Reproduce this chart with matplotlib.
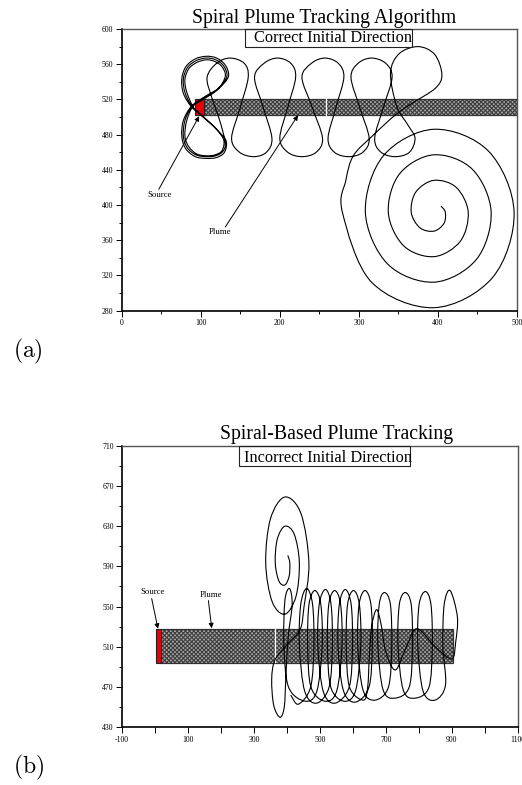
import numpy as np
import matplotlib
matplotlib.use("Agg")
import matplotlib.pyplot as plt
from matplotlib.path import Path
from matplotlib.patches import PathPatch, Rectangle

plt.rcParams["font.family"] = ["Liberation Serif", "DejaVu Serif"]
plt.rcParams["mathtext.fontset"] = "cm"
plt.rcParams["hatch.linewidth"] = 0.8

# ---------------- panel (a): correct initial direction ----------------
a_xlim = (0, 500)
a_ylim = (280, 600)
a_xticks = [0, 100, 200, 300, 400, 500]
a_yticks = [280, 320, 360, 400, 440, 480, 520, 560, 600]
a_source = (93, 502, 11, 19)          # x, y, width, height
a_plume = (104, 502, 396, 19)
a_plume_split = 259

# search spiral, from its centre outwards, then the run up to the plume
a_spiral = [(403.8, 398.9), (409.3, 392.0), (407.7, 379.3), (395.0, 370.4), (377.2, 374.2),
            (366.2, 392.0), (372.1, 414.9), (395.0, 428.1), (423.1, 420.1), (438.3, 392.0),
            (428.2, 358.8), (395.0, 341.4), (356.7, 353.7), (337.2, 392.0), (351.5, 435.5),
            (395.0, 457.1), (443.6, 440.6), (467.3, 392.0), (448.7, 338.3), (395.0, 312.4),
            (336.2, 333.2), (308.2, 392.0), (331.0, 456.0), (395.0, 486.1), (464.1, 461.1),
            (496.3, 392.0), (469.2, 317.8), (395.0, 283.4), (315.7, 312.7), (279.1, 392.0),
            (283.5, 428.0), (293.0, 456.0), (316.5, 478.0), (346.0, 502.3), (367.1, 515.5),
            (396.6, 532.6)]
# plume tracking lobes, moving upwind
a_track = [(405, 548), (396, 571), (375, 580), (351, 572), (340, 550),
           (348, 512), (362, 491), (371, 476), (364, 460), (346, 455), (328, 460), (320, 476),
           (331, 511), (342, 545), (334, 561), (316, 567), (299, 561), (290, 545),
           (301, 511), (313, 476), (305, 460), (287, 455), (269, 460), (261, 476),
           (271, 511), (281, 545), (274, 561), (257, 567), (240, 561), (228, 545),
           (241, 511), (254, 476), (246, 460), (228, 455), (210, 460), (200, 476),
           (210, 511), (220, 545), (214, 561), (197, 567), (180, 561), (168, 545),
           (179, 511), (190, 476), (183, 460), (167, 455), (149, 460), (139, 476),
           (150, 511), (160, 545), (155, 561), (137, 567), (120, 561), (108, 545),
           (114, 522), (124, 496)]
# figure-of-eight circling at the source (three passes)
a_source_loops = [(131, 471), (128, 461), (119, 456), (107, 455), (94, 457), (83, 465),
                  (78, 478), (80, 496), (89, 512), (103, 521), (122, 532), (133, 546),
                  (129, 558), (119, 565), (107, 567), (94, 564), (83, 556), (78, 543),
                  (80, 528), (89, 512), (104, 500), (120, 486),
                  (132, 473), (130, 460), (120, 454), (107, 453), (93, 455), (81, 464),
                  (76, 478), (78, 496), (88, 512), (103, 522), (123, 533), (135, 546),
                  (131, 559), (120, 567), (107, 569), (93, 566), (81, 557), (76, 543),
                  (78, 527), (88, 512), (104, 499), (119, 487),
                  (129, 474), (127, 462), (118, 457), (107, 456), (95, 458), (85, 466),
                  (80, 478), (82, 495), (90, 512), (103, 520), (121, 531), (131, 546),
                  (127, 557), (118, 563), (107, 565), (95, 562), (85, 555), (80, 543),
                  (82, 529), (90, 512), (97, 506)]
a_source_label = (48, 411)
a_source_arrow = ((47, 418), (98, 501))
a_plume_label = (124, 369)
a_plume_arrow = ((131, 375), (223, 502))

# ---------------- panel (b): incorrect initial direction ----------------
b_xlim = (-100, 1100)
b_ylim = (430, 710)
b_xticks = [-100, 0, 100, 200, 300, 400, 500, 600, 700, 800, 900, 1000, 1100]
b_xlabels = ["-100", "", "100", "", "300", "", "500", "", "700", "", "900", "", "1100"]
b_yticks = [430, 470, 510, 550, 590, 630, 670, 710]
b_source = (4, 494, 14, 34)
b_plume = (18, 494, 887, 34)
b_plume_split = 363

# search spiral from its centre outwards
b_spiral = [(402.8, 600.9), (408.8, 593.5), (407.0, 580.5), (394.0, 571.5), (375.9, 575.4),
            (364.8, 593.5), (370.7, 616.8), (394.0, 630.0), (422.4, 621.9), (437.8, 593.5),
            (427.5, 560.0), (394.0, 542.5), (355.4, 554.9), (335.8, 593.5), (350.2, 637.3),
            (394.0, 659.0), (442.9, 642.4), (466.8, 593.5), (452.0, 550.0)]
# drift back across the plume, then casting loops downwind and back upwind
b_track = [(440, 527), (400, 512), (364, 497), (354, 478), (360, 452), (379, 440),
           (392, 450), (397, 480), (404, 520), (416, 552), (408, 568), (394, 556),
           (391, 511), (405, 470), (455, 456), (491, 466), (507, 511), (503, 552),
           (485, 566), (467, 552), (463, 511), (473, 470), (515, 456), (551, 466),
           (567, 511), (563, 552), (545, 566), (527, 552), (523, 511), (533, 470),
           (572, 456), (608, 466), (624, 511), (620, 552), (602, 566), (584, 552),
           (580, 511), (590, 470), (632, 457), (645, 470), (650, 500), (657, 530),
           (672, 547), (686, 532), (700, 505), (729, 487), (760, 508), (794, 528),
           (850, 510), (900, 498), (912, 515), (917, 540), (895, 566), (877, 552),
           (873, 511), (881, 472), (849, 457), (813, 466), (797, 511), (801, 552),
           (820, 565), (837, 552), (841, 511), (831, 470), (789, 459), (753, 467),
           (737, 511), (741, 552), (759, 564), (777, 552), (781, 511), (771, 470),
           (728, 459), (692, 467), (676, 511), (680, 552), (696, 564), (714, 552),
           (718, 511), (708, 470), (667, 457), (631, 467), (615, 511), (619, 552),
           (637, 566), (655, 552), (659, 511), (649, 470), (607, 455), (571, 467),
           (555, 511), (559, 552), (577, 567), (595, 552), (599, 511), (589, 470),
           (546, 454), (510, 466), (494, 511), (498, 552), (517, 567), (534, 552),
           (538, 511), (528, 470), (490, 454), (454, 466), (438, 511), (442, 552),
           (460, 568), (478, 552), (482, 511), (472, 470), (435, 453), (412, 462)]
b_source_label = (-7, 565)
b_source_arrow = ((-10, 558), (9, 528))
b_plume_label = (170, 562)
b_plume_arrow = ((162, 556), (172, 528.5))


def smooth_path(points):
    """Cubic Bezier path passing through the given waypoints (Catmull-Rom)."""
    p = np.asarray(points, dtype=float)
    verts = [p[0]]
    codes = [Path.MOVETO]
    n = len(p)
    for i in range(n - 1):
        p0 = p[i - 1] if i > 0 else p[i]
        p1, p2 = p[i], p[i + 1]
        p3 = p[i + 2] if i + 2 < n else p[i + 1]
        verts += [p1 + (p2 - p0) / 6.0, p2 - (p3 - p1) / 6.0, p2]
        codes += [Path.CURVE4] * 3
    return Path(verts, codes)


def draw_plume(ax, plume, split, source):
    x, y, w, h = plume
    ax.add_patch(Rectangle((x, y), w, h, facecolor="#a9a9a9", edgecolor="#3c3c3c",
                           hatch="xxxxxxxx", lw=0, zorder=2))
    ax.add_patch(Rectangle((x, y), w, h, fill=False, edgecolor="#333333", lw=0.9, zorder=3))
    ax.plot([split, split], [y + 0.6, y + h - 0.6], color="white", lw=0.9, zorder=3)
    sx, sy, sw, sh = source
    ax.add_patch(Rectangle((sx, sy), sw, sh, facecolor="#e8000b", edgecolor="#222222",
                           lw=0.8, zorder=3))


def style_axes(ax, xlim, ylim):
    ax.set_xlim(*xlim)
    ax.set_ylim(*ylim)
    for side in ("left", "bottom"):
        ax.spines[side].set_color("black")
        ax.spines[side].set_linewidth(1.2)
    for side in ("top", "right"):
        ax.spines[side].set_color("#555555")
        ax.spines[side].set_linewidth(1.0)
    ax.tick_params(which="both", direction="out", labelsize=5.6, pad=2, width=0.7)
    ax.tick_params(which="major", length=4)
    ax.tick_params(which="minor", length=2.5)


def label_arrow(ax, text, label_xy, arrow):
    ax.text(*label_xy, text, fontsize=6.3, ha="center", va="center", zorder=5)
    ax.annotate("", xy=arrow[1], xytext=arrow[0],
                arrowprops=dict(arrowstyle="-|>", color="black", lw=0.7,
                                mutation_scale=7, shrinkA=0, shrinkB=0), zorder=5)


fig = plt.figure(figsize=(5.22, 7.85), dpi=100)
W, H = 522.0, 785.0

# ---- (a)
axa = fig.add_axes([121.7 / W, 1 - 310.7 / H, 395.3 / W, 281.7 / H])
style_axes(axa, a_xlim, a_ylim)
axa.set_xticks(a_xticks)
axa.set_xticks(np.arange(50, 500, 100), minor=True)
axa.set_yticks(a_yticks)
axa.set_yticks(np.arange(300, 600, 40), minor=True)
draw_plume(axa, a_plume, a_plume_split, a_source)
path_a = a_spiral + a_track + a_source_loops
axa.add_patch(PathPatch(smooth_path(path_a), fill=False, edgecolor="black", lw=0.8, zorder=4))
label_arrow(axa, "Source", a_source_label, a_source_arrow)
label_arrow(axa, "Plume", a_plume_label, a_plume_arrow)

# ---- (b)
axb = fig.add_axes([122.0 / W, 1 - 727.3 / H, 395.7 / W, 281.6 / H])
style_axes(axb, b_xlim, b_ylim)
axb.set_xticks(b_xticks)
axb.set_xticklabels(b_xlabels)
axb.set_yticks(b_yticks)
axb.set_yticks(np.arange(450, 710, 40), minor=True)
draw_plume(axb, b_plume, b_plume_split, b_source)
path_b = b_spiral + b_track
axb.add_patch(PathPatch(smooth_path(path_b), fill=False, edgecolor="black", lw=0.8, zorder=4))
label_arrow(axb, "Source", b_source_label, b_source_arrow)
label_arrow(axb, "Plume", b_plume_label, b_plume_arrow)

# ---- titles, boxed subtitles and panel letters
fig.text(324 / W, 1 - 23.5 / H, "Spiral Plume Tracking Algorithm", fontsize=14.2,
         ha="center", va="baseline")
fig.text(254 / W, 1 - 42.5 / H, "Correct Initial Direction", fontsize=11.8,
         ha="left", va="baseline")
fig.patches.append(Rectangle((245 / W, 1 - 46.7 / H), 167 / W, 17.4 / H, fill=False,
                             edgecolor="#222222", lw=0.8, transform=fig.transFigure))

fig.text(337 / W, 1 - 438.5 / H, "Spiral-Based Plume Tracking", fontsize=14.2,
         ha="center", va="baseline")
fig.text(244.3 / W, 1 - 461.5 / H, "Incorrect Initial Direction", fontsize=11.8,
         ha="left", va="baseline")
fig.patches.append(Rectangle((239 / W, 1 - 466 / H), 170.7 / W, 20.3 / H, fill=False,
                             edgecolor="#222222", lw=0.8, transform=fig.transFigure))

fig.text(13 / W, 1 - 357 / H, r"$\mathrm{(a)}$", fontsize=17, ha="left", va="baseline")
fig.text(13 / W, 1 - 773 / H, r"$\mathrm{(b)}$", fontsize=17, ha="left", va="baseline")

fig.savefig("out.png", dpi=100)
